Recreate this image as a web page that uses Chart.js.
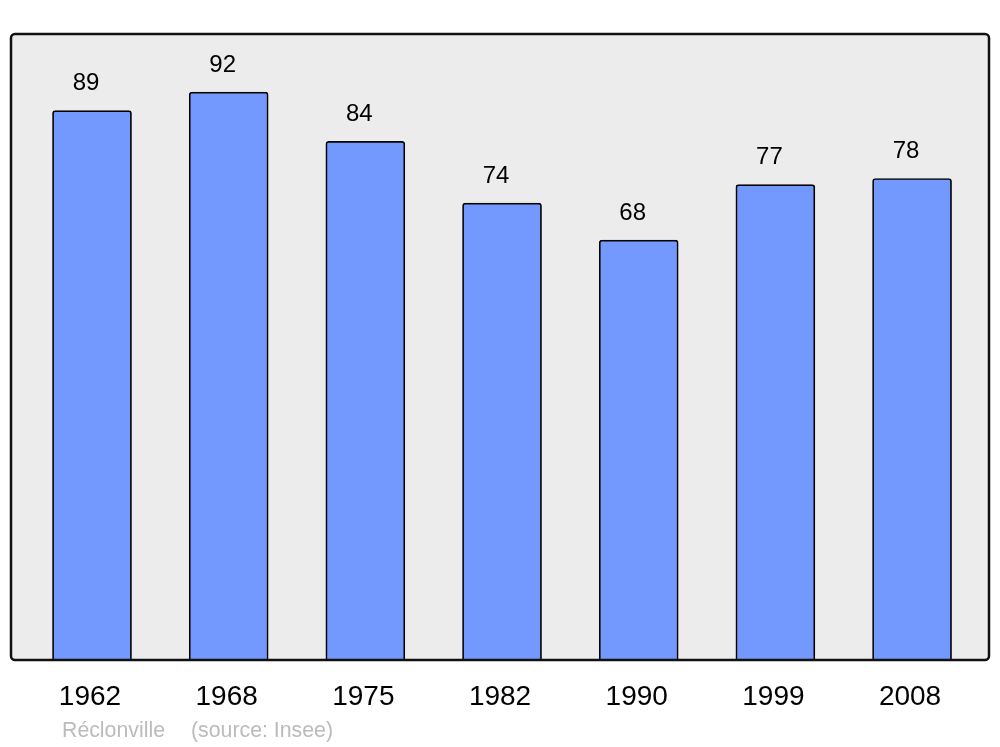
<!DOCTYPE html>
<html>
<head>
<meta charset="utf-8">
<script src="https://cdn.jsdelivr.net/npm/chart.js@4/dist/chart.umd.min.js"></script>
<style>
  html, body { margin: 0; padding: 0; background: #ffffff; }
  #wrap { width: 1000px; height: 747px; position: relative; }
</style>
</head>
<body>
<div id="wrap"><canvas id="c" width="1000" height="747"></canvas></div>
<script>
const years = ["1962", "1968", "1975", "1982", "1990", "1999", "2008"];
const population = [89, 92, 84, 74, 68, 77, 78];
const subtitleParts = ["Réclonville", "(source: Insee)"];

const FONT = "'Liberation Sans', Arial, sans-serif";

const framePlugin = {
  id: 'frame',
  beforeDatasetsDraw(chart) {
    const { ctx, chartArea: a } = chart;
    ctx.save();
    ctx.beginPath();
    ctx.roundRect(a.left, a.top, a.right - a.left, a.bottom - a.top, 4);
    ctx.fillStyle = '#ececec';
    ctx.fill();
    ctx.restore();
  },
  afterDatasetsDraw(chart) {
    const { ctx, chartArea: a } = chart;
    ctx.save();
    ctx.beginPath();
    ctx.roundRect(a.left, a.top, a.right - a.left, a.bottom - a.top, 4);
    ctx.lineWidth = 2.5;
    ctx.strokeStyle = '#111111';
    ctx.stroke();
    // value labels
    const meta = chart.getDatasetMeta(0);
    ctx.fillStyle = '#000000';
    ctx.font = '24px ' + FONT;
    ctx.textAlign = 'center';
    ctx.textBaseline = 'middle';
    meta.data.forEach((bar, i) => {
      ctx.fillText(String(population[i]), bar.x - 6, bar.y - 27);
    });
    // source line
    ctx.fillStyle = '#bbbbbb';
    ctx.font = '21.3px ' + FONT;
    ctx.textAlign = 'left';
    ctx.fillText(subtitleParts[0], 62, 731);
    ctx.fillText(subtitleParts[1], 191, 731);
    ctx.restore();
  }
};

new Chart(document.getElementById('c'), {
  type: 'bar',
  data: {
    datasets: [{
      data: population.map((v, i) => ({ x: i, y: v })),
      backgroundColor: '#7399ff',
      borderColor: '#000000',
      borderWidth: 1.7,
      borderRadius: 3,
      barThickness: 79
    }]
  },
  options: {
    responsive: false,
    animation: false,
    devicePixelRatio: 1,
    layout: { padding: { left: 11, right: 11, top: 34, bottom: 37 } },
    plugins: { legend: { display: false }, tooltip: { enabled: false } },
    scales: {
      x: {
        type: 'linear',
        offset: false,
        min: -0.5927,
        max: 6.563,
        grid: { display: false, drawTicks: false, offset: false },
        border: { display: false },
        afterBuildTicks(scale) { scale.ticks = years.map((_, i) => ({ value: i })); },
        afterFit(scale) { scale.height = 50; },
        ticks: {
          padding: 20,
          labelOffset: -2,
          color: '#000000',
          font: { family: FONT, size: 28, lineHeight: 1.2 },
          maxRotation: 0,
          autoSkip: false,
          callback: (v) => years[v] ?? ''
        }
      },
      y: {
        display: false,
        min: 0,
        max: 101.4
      }
    }
  },
  plugins: [framePlugin]
});
</script>
</body>
</html>
